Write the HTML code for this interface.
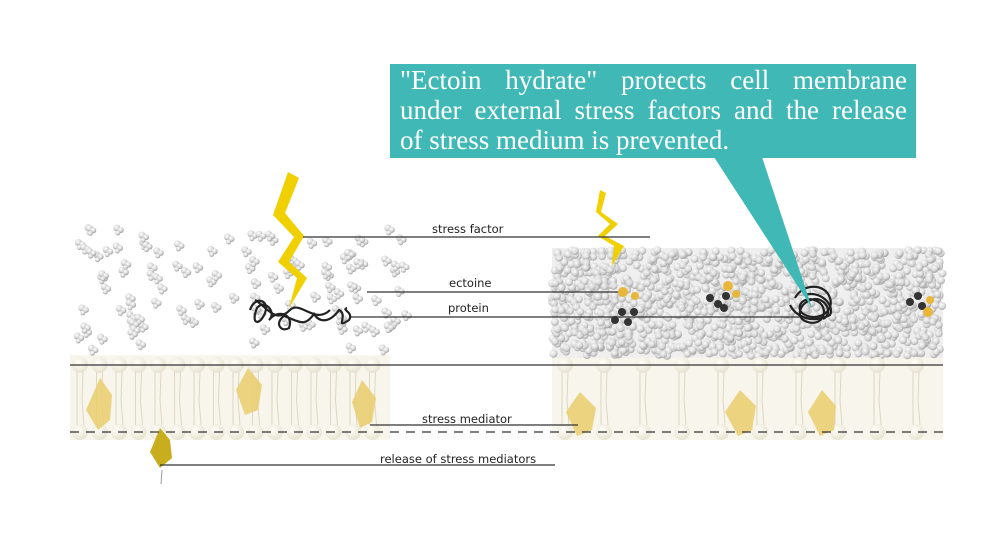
<!DOCTYPE html>
<html><head><meta charset="utf-8"><style>
html,body{margin:0;padding:0;background:#fff;width:1000px;height:554px;overflow:hidden;position:relative}
svg{display:block}
.cap{position:absolute;left:400px;top:65px;width:507px;font-family:"Liberation Serif",serif;font-size:27px;line-height:30px;color:#fff}
.cap div{text-align:justify;text-align-last:justify;white-space:nowrap}
.cap div.l{text-align-last:left}
</style></head><body>
<svg id="s" width="1000" height="554" viewBox="0 0 1000 554" xmlns="http://www.w3.org/2000/svg">
<defs>
<radialGradient id="b" cx="40%" cy="35%" r="65%"><stop offset="0" stop-color="#fff"/><stop offset="0.6" stop-color="#d8d8d8"/><stop offset="1" stop-color="#999"/></radialGradient>
<radialGradient id="h" cx="40%" cy="35%" r="65%"><stop offset="0" stop-color="#fffef8"/><stop offset="1" stop-color="#e8e3d2"/></radialGradient>
</defs>
<rect x="70" y="355" width="320" height="85" fill="#f8f5ec"/>
<rect x="552" y="355" width="391" height="85" fill="#f8f5ec"/>
<rect x="552" y="248" width="391" height="110" fill="#efefef"/>
<g id="mol"></g>
<g id="mem"></g>
<g fill="#e9cf73" opacity="0.9">
<path d="M100 378 L112 395 L110 420 L98 430 L86 410 Z"/>
<path d="M248 368 L262 385 L258 410 L245 415 L236 390 Z"/>
<path d="M362 380 L376 398 L372 422 L360 428 L352 402 Z"/>
<path d="M580 392 L596 408 L592 430 L577 436 L566 412 Z"/>
<path d="M740 390 L756 406 L752 430 L738 436 L725 412 Z"/>
<path d="M822 390 L836 406 L834 430 L820 436 L808 412 Z"/>
</g>
<path d="M160 428 L170 440 L172 458 L160 468 L150 452 Z" fill="#c8ad1e"/>
<line x1="162" y1="470" x2="161" y2="484" stroke="#999" stroke-width="1"/>
<polygon points="288,172 299,178 285,213 304,236 289,262 307,278 289,308 297,278 278,262 294,237 273,215" fill="#f0d000"/>
<polygon points="600,190 606,193 601,212 618,224 605,236 624,246 612,266 614,246 598,236 610,224 596,212" fill="#f0d000"/>
<g stroke="#333" stroke-width="1.3" fill="none">
<line x1="303" y1="237" x2="650" y2="237"/>
<line x1="367" y1="292" x2="620" y2="292"/>
<line x1="350" y1="317" x2="805" y2="317"/>
<line x1="70" y1="365" x2="943" y2="365"/>
<line x1="370" y1="425" x2="578" y2="425"/>
<line x1="160" y1="465" x2="555" y2="465"/>
<line x1="70" y1="432" x2="943" y2="432" stroke-dasharray="9 7"/>
</g>
<g stroke="#222" stroke-width="2.2" fill="none">
<path d="M250 310 c5-15 20-10 15 3 s-15 12-8-5 c8-10 20 5 12 12 c10-12 25-5 20 8 c-8 5-15-5-5-12 c15 5 20 12 30-2 c5 8 15 10 25-4 c10 5-5 20 10 10 c5-8-8-10-2-12"/>
<path d="M255 300 c10 5 20 25 35 10 c10-10 25 15 40 0"/>
<path d="M795 298 c8-15 30-15 35 0 c5 15-15 25-28 15 c-8-8 5-20 18-10 c10 10 0 25-15 18 c-10-5-5-20 10-22 c12 0 18 15 8 20"/>
<path d="M790 305 c5 10 20 20 40 10 c5-10-10-25-25-20"/>
</g>
<g fill="#333"><circle cx="622" cy="312" r="4"/><circle cx="615" cy="320" r="4"/><circle cx="628" cy="322" r="4"/><circle cx="634" cy="312" r="4"/>
<circle cx="710" cy="298" r="4"/><circle cx="718" cy="304" r="4"/><circle cx="726" cy="296" r="4"/><circle cx="724" cy="308" r="4"/>
<circle cx="910" cy="302" r="4"/><circle cx="918" cy="296" r="4"/><circle cx="922" cy="306" r="4"/></g>
<g fill="#e8b73a"><circle cx="623" cy="292" r="5"/><circle cx="635" cy="296" r="4"/><circle cx="728" cy="286" r="5"/><circle cx="736" cy="294" r="4"/><circle cx="928" cy="312" r="5"/><circle cx="930" cy="300" r="4"/></g>
<g font-family="DejaVu Sans, sans-serif" font-size="11.5" fill="#222">
<text x="432" y="233">stress factor</text>
<text x="449" y="287">ectoine</text>
<text x="448" y="312">protein</text>
<text x="422" y="423">stress mediator</text>
<text x="380" y="463">release of stress mediators</text>
</g>
<polygon points="714,157 762,157 812,308" fill="#3fb8b6"/>
<rect x="390" y="64" width="526" height="94" fill="#3fb8b6"/>
</svg>
<div class="cap"><div>"Ectoin hydrate" protects cell membrane</div><div>under external stress factors and the release</div><div class="l">of stress medium is prevented.</div></div>
<script>
var NS="http://www.w3.org/2000/svg",m=document.getElementById('mol'),mem=document.getElementById('mem');
var seed=7;function r(){seed=(seed*9301+49297)%233280;return seed/233280;}
function c(g,x,y,rad,f,op){var e=document.createElementNS(NS,'circle');e.setAttribute('cx',x);e.setAttribute('cy',y);e.setAttribute('r',rad);e.setAttribute('fill',f);if(op)e.setAttribute('opacity',op);g.appendChild(e);}
for(var i=0;i<1400;i++){c(m,552+r()*391,250+r()*106,4,'url(#b)',0.8);}
for(var i=0;i<120;i++){var x=75+r()*330,y=225+r()*125;c(m,x,y,3.5,'url(#b)');c(m,x+4,y+2,3,'url(#b)');c(m,x+1,y+5,2.5,'url(#b)');}
function lip(x){c(mem,x,365,8,'url(#h)');c(mem,x,432,8,'url(#h)');
var p=document.createElementNS(NS,'path');p.setAttribute('d','M'+(x-3)+' 372 L'+(x-3)+' 425 M'+(x+3)+' 372 L'+(x+2)+' 400 L'+(x+4)+' 425');p.setAttribute('stroke','#ddd6c0');p.setAttribute('fill','none');mem.appendChild(p);}
for(var x=80;x<=385;x+=19.5)lip(x);
for(var x=565;x<=940;x+=39)lip(x);
</script>
</body></html>
